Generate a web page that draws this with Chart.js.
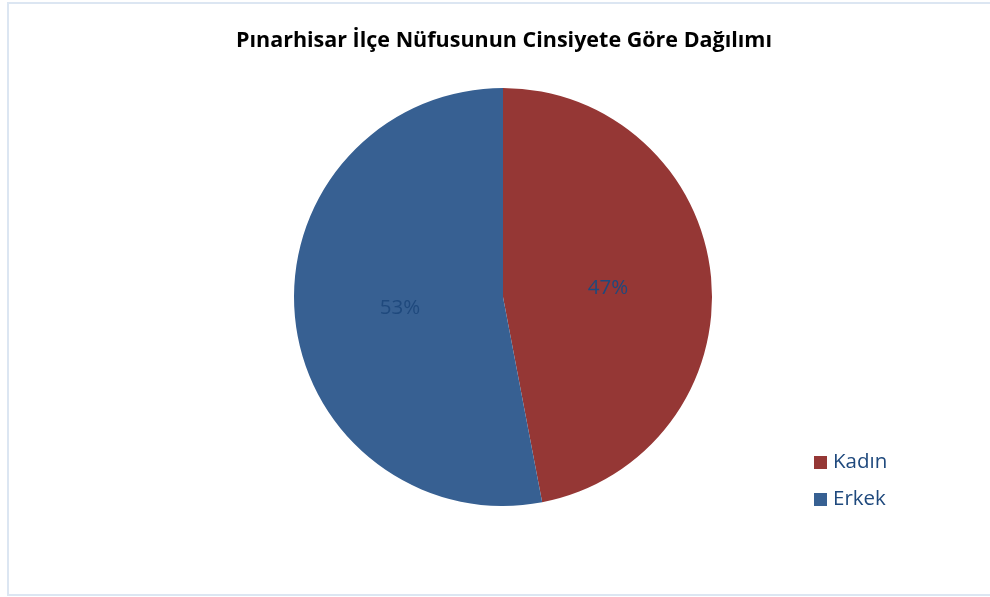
<!DOCTYPE html>
<html>
<head>
<meta charset="utf-8">
<script src="https://cdn.jsdelivr.net/npm/chart.js@4"></script>
<style>
  body { margin: 0; background: #fff; }
  #wrap { width: 990px; height: 597px; }
</style>
</head>
<body>
<div id="wrap"><canvas id="genderChart" width="990" height="597"></canvas></div>
<script>
const categories = ['Kadın', 'Erkek'];
const shares = [47, 53];
const sliceColors = ['#953735', '#376092'];
const chartTitle = 'Pınarhisar İlçe Nüfusunun Cinsiyete Göre Dağılımı';

const FONT = '"Open Sans", sans-serif';
const TEXT_BLUE = '#1f497d';

// frame, title, value labels and the legend on the right
const decorations = {
    id: 'decorations',
    beforeDraw(chart) {
        const ctx = chart.ctx;
        ctx.save();
        ctx.strokeStyle = '#dce6f2';
        ctx.lineWidth = 2;
        ctx.strokeRect(8, 3, 990, 592);
        ctx.restore();
    },
    afterDraw(chart) {
        const ctx = chart.ctx;
        ctx.save();
        ctx.fillStyle = '#000';
        ctx.font = 'bold 21.5px ' + FONT;
        ctx.textAlign = 'center';
        ctx.textBaseline = 'middle';
        ctx.fillText(chartTitle, 504, 41);

        const meta = chart.getDatasetMeta(0);
        ctx.font = '20.5px ' + FONT;
        ctx.fillStyle = TEXT_BLUE;
        meta.data.forEach((arc, i) => {
            const p = arc.tooltipPosition();
            ctx.fillText(shares[i] + '%', p.x + 1, p.y + 1);
        });

        ctx.textAlign = 'left';
        categories.forEach((name, i) => {
            const y = 462 + i * 37;
            ctx.fillStyle = sliceColors[i];
            ctx.fillRect(814, y - 6, 13, 13);
            ctx.fillStyle = TEXT_BLUE;
            ctx.fillText(name, 833, y);
        });
        ctx.restore();
    }
};

new Chart(document.getElementById('genderChart').getContext('2d'), {
    type: 'pie',
    data: {
        labels: categories,
        datasets: [{
            data: shares,
            backgroundColor: sliceColors,
            borderWidth: 0
        }]
    },
    options: {
        responsive: false,
        animation: false,
        layout: { padding: { top: 88, bottom: 91, left: 16, right: 0 } },
        plugins: {
            legend: { display: false },
            title: { display: false },
            tooltip: { enabled: false }
        }
    },
    plugins: [decorations]
});
</script>
</body>
</html>
